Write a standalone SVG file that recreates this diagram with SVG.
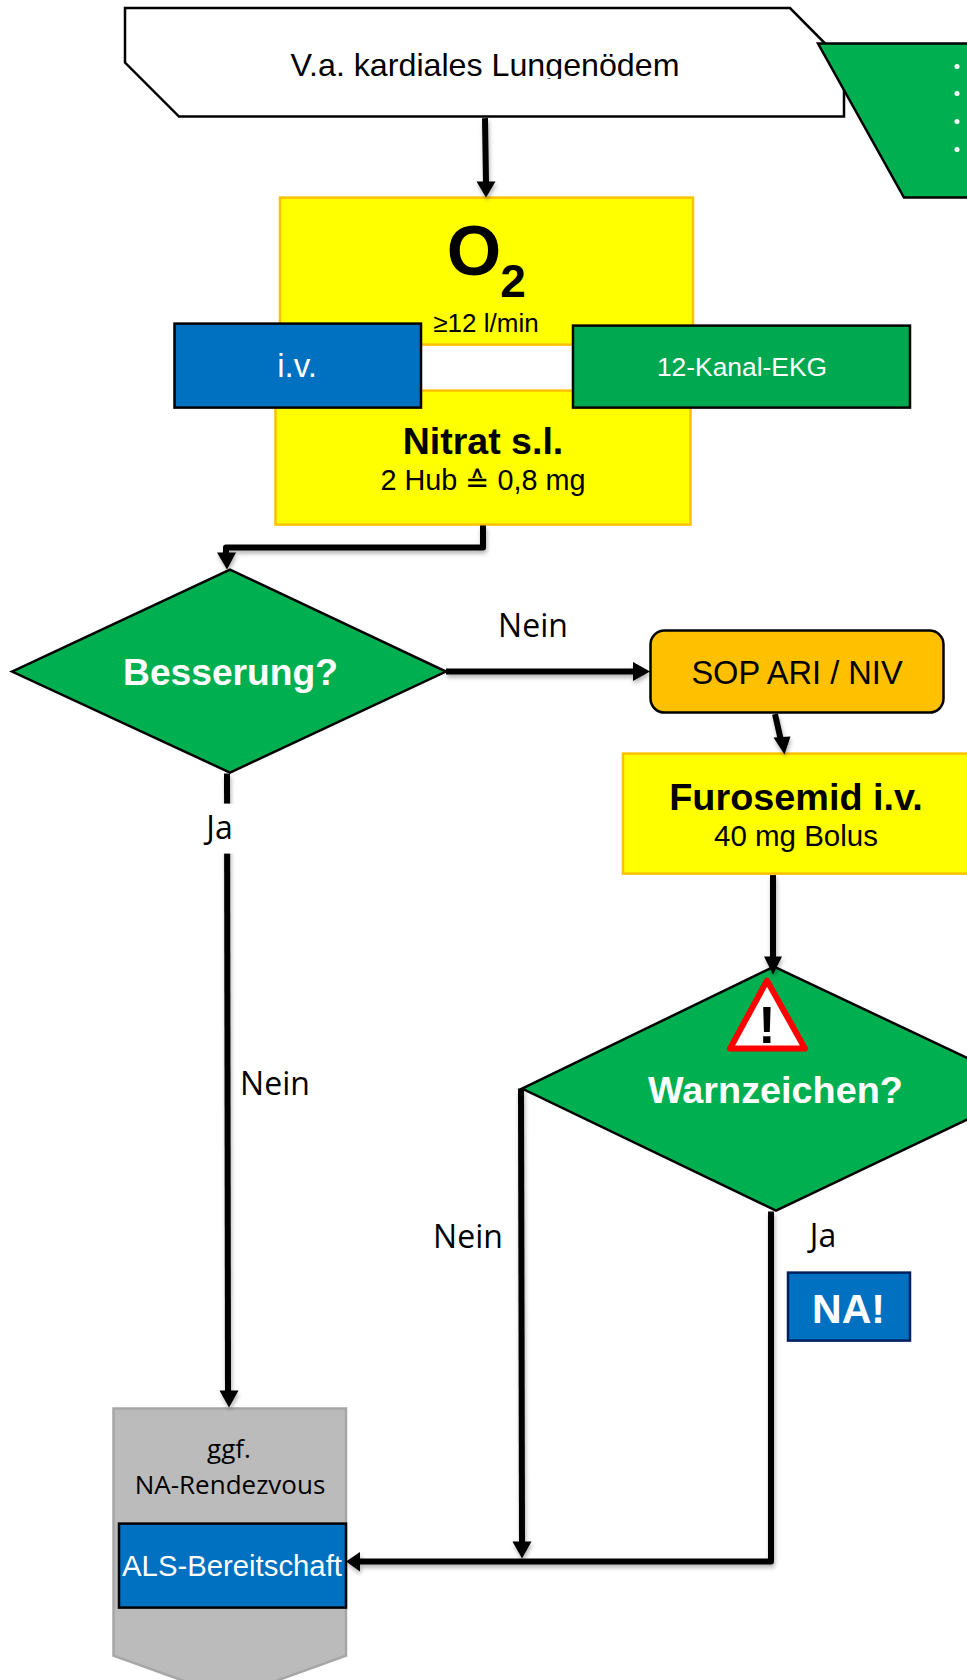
<svg xmlns="http://www.w3.org/2000/svg" width="967" height="1680" viewBox="0 0 967 1680">
<style>
.s{font-family:"Liberation Sans",Arial,sans-serif;text-anchor:middle}
.b{font-weight:bold}
.o{font-family:"Open Sans","Noto Sans",sans-serif;text-anchor:middle;fill:#000}
.w{fill:#fff}
.g{fill:#00B050;stroke:#000;stroke-width:2.5}
.y{fill:#FFFF00;stroke:#FFC000;stroke-width:2.5}
.bl{fill:#0070C0;stroke:#000;stroke-width:2.5}
.c{fill:none;stroke:#000;stroke-width:6;stroke-linejoin:round}
.h{fill:#000;stroke:none}
</style>
<defs>
<clipPath id="clipTitle"><rect x="200" y="40" width="560" height="38.500"/></clipPath>
<filter id="sh" x="-20%" y="-20%" width="140%" height="140%"><feDropShadow dx="1" dy="3" stdDeviation="2" flood-color="#000" flood-opacity="0.3"/></filter>
</defs>
<rect width="967" height="1680" fill="#fff"/>
<g transform="translate(0 0.6)">
<g id="start">
<path d="M125 7.5L790 7.5L844 62L844 116L179 116L125 62Z" fill="#fff" stroke="#000" stroke-width="2.5"/>
<text class="s" x="485" y="75.500" font-size="32.200" clip-path="url(#clipTitle)">V.a. kardiales Lungenödem</text>
</g>
<g id="note">
<path d="M818 43L975 43L975 197L904 197Z" fill="#00B050" stroke="#000" stroke-width="2.5"/>
<circle cx="957" cy="66" r="2.5" fill="#fff"/><circle cx="957" cy="93" r="2.5" fill="#fff"/><circle cx="957" cy="121" r="2.5" fill="#fff"/><circle cx="957" cy="149" r="2.5" fill="#fff"/>
</g>
<g id="o2">
<rect class="y" x="280" y="197" width="413" height="147"/>
<text class="s b" x="474" y="274" font-size="70">O</text>
<text class="s b" x="513" y="296" font-size="46">2</text>
<text class="s" x="486" y="331.500" font-size="26">≥12 l/min</text>
</g>
<g id="nitrat">
<rect class="y" x="275.500" y="390" width="415" height="134"/>
<text class="s b" x="483" y="453" font-size="37.500">Nitrat s.l.</text>
<text class="s" x="483" y="489" font-size="28.800">2 Hub <tspan dy="2">≙</tspan><tspan dy="-2"> 0,8 mg</tspan></text>
</g>
<g id="iv">
<rect class="bl" x="174.500" y="323" width="246.500" height="84"/>
<text class="s w" x="297" y="376" font-size="33">i.v.</text>
</g>
<g id="ekg">
<rect x="573" y="325" width="337" height="82" fill="#00A850" stroke="#000" stroke-width="2.500"/>
<text class="s w" x="742" y="375" font-size="26.400">12-Kanal-EKG</text>
</g>
<g id="besserung">
<path class="g" d="M12 671L230 569L446 671L230 772Z"/>
<text class="s b w" x="230.500" y="684" font-size="37.200">Besserung?</text>
</g>
<g id="sop">
<rect x="650.500" y="630" width="293" height="82" rx="14" fill="#FFC000" stroke="#000" stroke-width="2.500"/>
<text class="s" x="797" y="683" font-size="32.600">SOP ARI / NIV</text>
</g>
<g id="furosemid">
<rect class="y" x="623" y="753" width="360" height="120"/>
<text class="s b" x="796" y="809" font-size="37.800">Furosemid i.v.</text>
<text class="s" x="796" y="845" font-size="29.500">40 mg Bolus</text>
</g>
<g id="warnzeichen">
<path class="g" d="M522 1088L774 966L1032 1088L776 1210Z"/>
<path d="M767 980L805 1048L730 1048Z" fill="#fff" stroke="#f00" stroke-width="6" stroke-linejoin="round"/>
<text class="s b" x="767" y="1042" font-size="52">!</text>
<text class="s b w" x="775.500" y="1102" font-size="37.800">Warnzeichen?</text>
</g>
<g id="na">
<rect x="788" y="1272" width="122" height="68" fill="#0070C0" stroke="#002060" stroke-width="2.500"/>
<text class="s b w" x="848.500" y="1322" font-size="41">NA!</text>
</g>
<g id="ziel">
<path d="M113.500 1408L346 1408L346 1655L230 1697L113.500 1655Z" fill="#BBBBBB" stroke="#A6A6A6" stroke-width="2.500"/>
<text class="o" x="229" y="1457" font-size="26">ggf.</text>
<text class="o" x="230" y="1493.500" font-size="26">NA-Rendezvous</text>
</g>
<g id="als">
<rect class="bl" x="119" y="1523" width="227" height="84"/>
<text class="s w" x="232" y="1575" font-size="29.300">ALS-Bereitschaft</text>
</g>
<g id="connectors" filter="url(#sh)">
<path class="c" d="M485 117.500L486 182"/><path class="h" d="M476.500 181L495.500 181L486 197Z"/>
<path class="c" d="M483 525L483 547L226 547L226 555"/><path class="h" d="M217 552L236 552L227 569Z"/>
<path class="c" d="M446 671L635 671"/><path class="h" d="M633 661.500L650 671L633 680.500Z"/>
<path class="c" d="M775 713.500L781 740"/><path class="h" d="M773.500 737L790.500 736L784.500 754Z"/>
<path class="c" d="M773 874.500L773 958"/><path class="h" d="M764 956L782 956L773 974Z"/>
<path class="c" d="M227 773L228 1392"/><path class="h" d="M219.500 1390L238.500 1390L229 1407Z"/>
<path class="c" d="M521 1088L522 1542"/><path class="h" d="M512.500 1541L531.500 1541L522 1558Z"/>
<path class="c" d="M771 1211L771 1561L358 1561"/><path class="h" d="M360 1551.500L346 1561L360 1571Z"/>
</g>
<g id="labels">
<text class="o" x="533" y="636" font-size="32">Nein</text>
<rect x="205" y="803" width="35" height="50" fill="#fff"/>
<text class="o" x="219.500" y="838" font-size="32">Ja</text>
<text class="o" x="275" y="1094" font-size="32">Nein</text>
<text class="o" x="468" y="1247" font-size="32">Nein</text>
<text class="o" x="823" y="1246" font-size="32">Ja</text>
</g>
</g>
</svg>
